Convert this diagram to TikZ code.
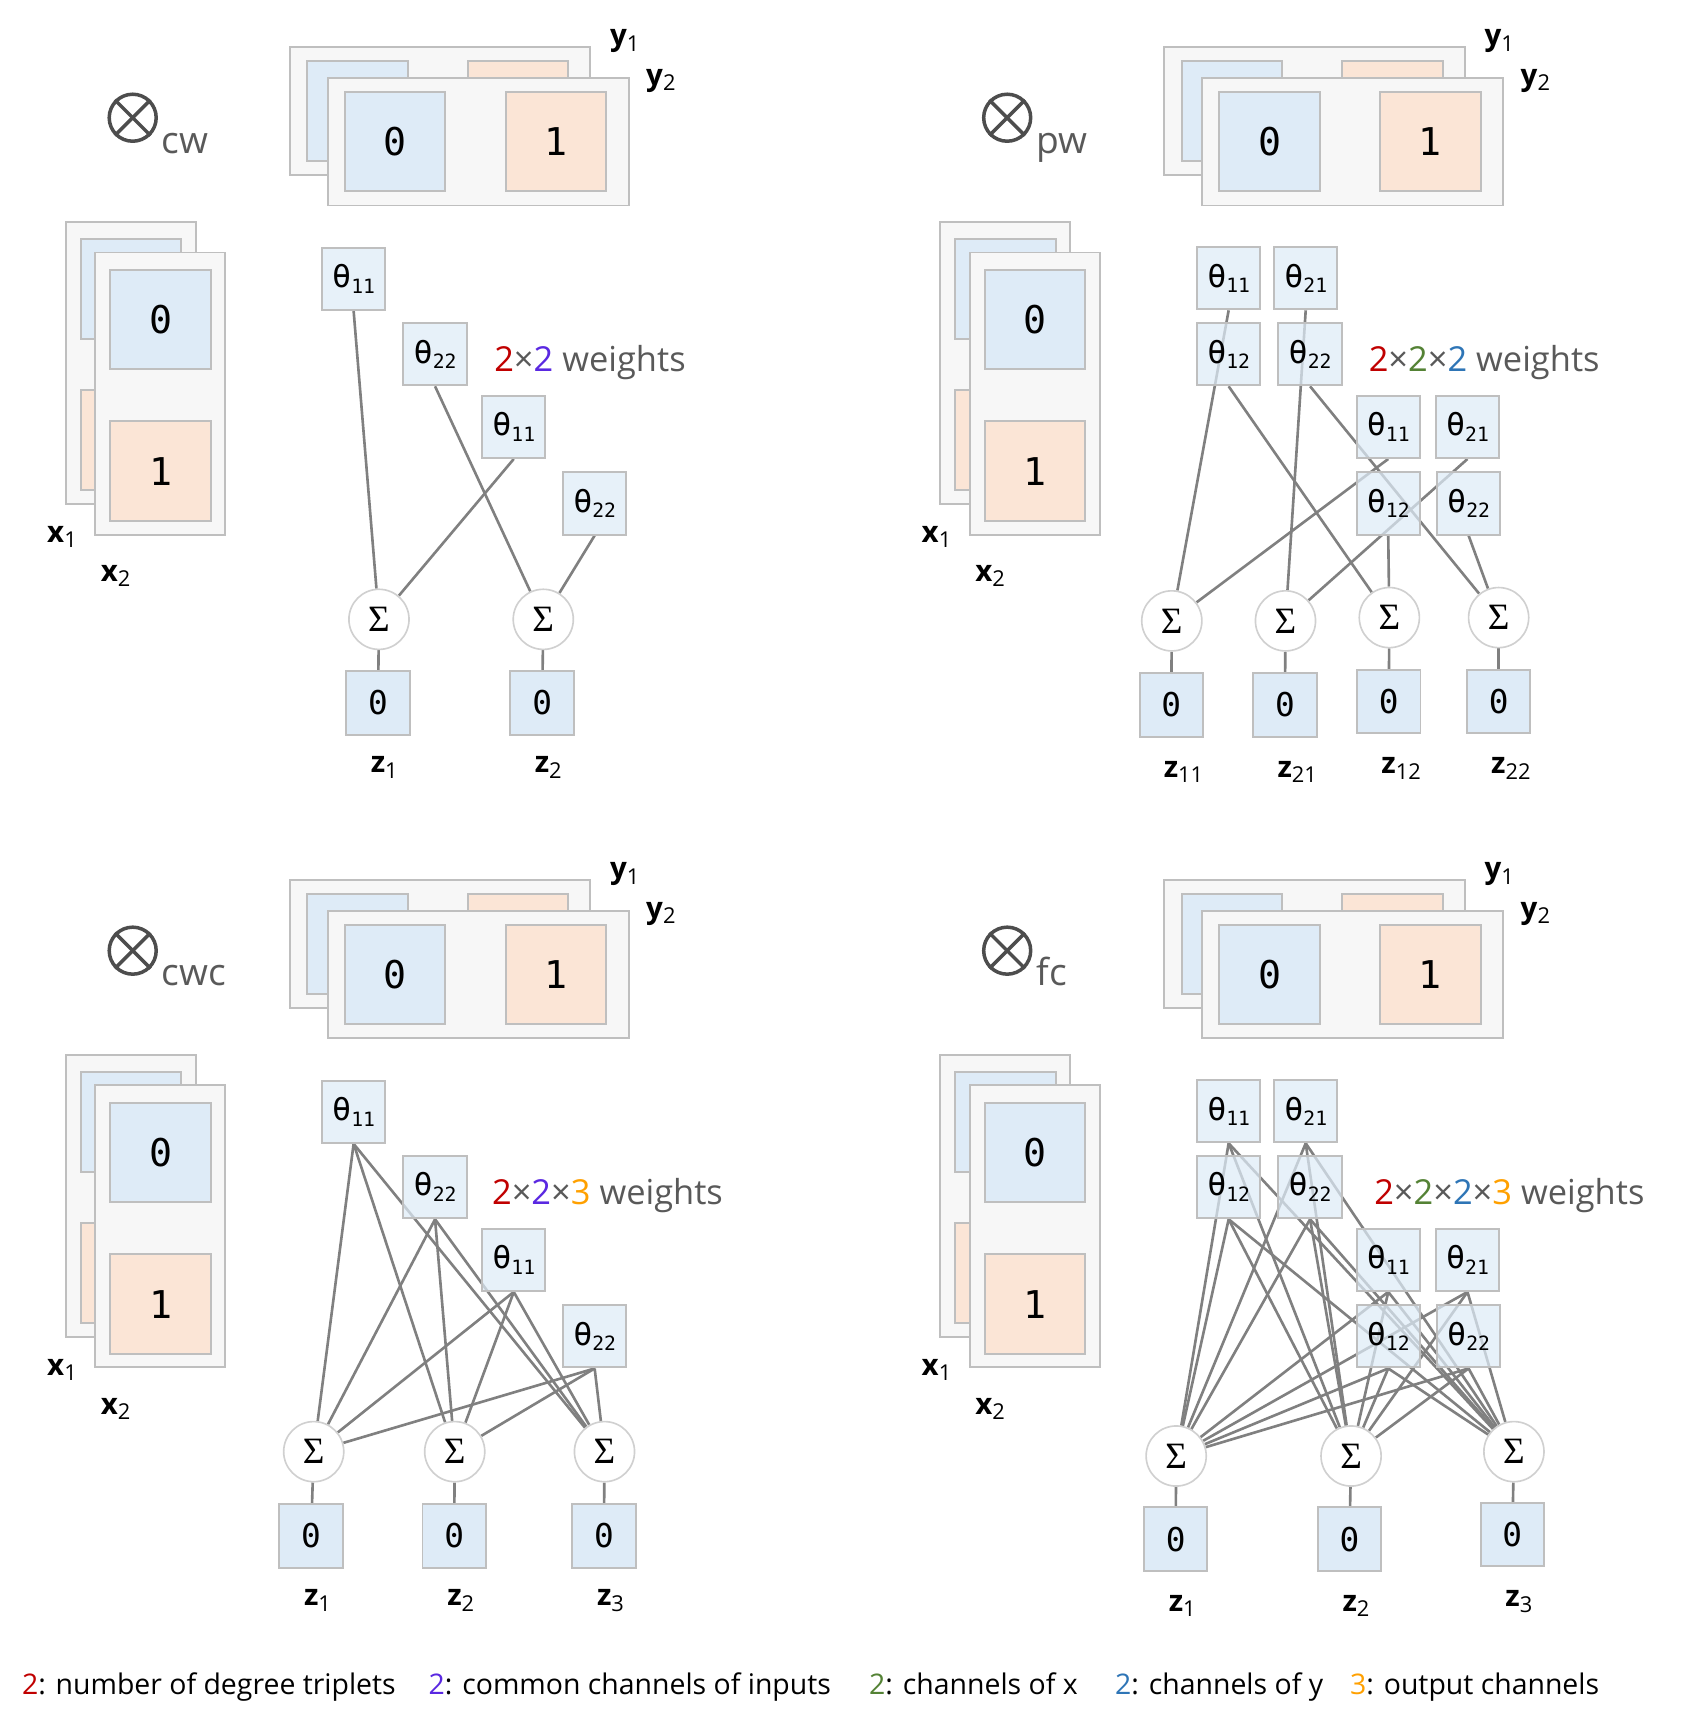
\documentclass[tikz,border=0pt]{standalone}
\usepackage{fontspec}
\setmainfont{Open Sans}
\newfontfamily\monof{DejaVu Sans Mono}
\newfontfamily\sigf{Liberation Serif}
\pgfdeclarelayer{back}
\pgfsetlayers{back,main}
\definecolor{bord}{HTML}{BFBFBF}
\definecolor{bblue}{HTML}{DEEBF7}
\definecolor{borange}{HTML}{FBE5D6}
\definecolor{bgrey}{HTML}{F7F7F7}
\definecolor{linec}{HTML}{808080}
\definecolor{circc}{HTML}{D0D0D0}
\definecolor{txtg}{HTML}{595959}
\definecolor{opc}{HTML}{4D4D4D}
\definecolor{cred}{HTML}{C00000}
\definecolor{cpur}{RGB}{90,40,225}
\definecolor{cgrn}{HTML}{548235}
\definecolor{cblu}{HTML}{2E75B6}
\definecolor{corg}{RGB}{255,160,0}
\newcommand\wt[1]{θ\raisebox{-5pt}{\fontsize{18}{18}\selectfont #1}}
\newcommand\blab[2]{{\bfseries #1}{\fontsize{20}{20}\selectfont\raisebox{-5pt}{#2}}}
\tikzset{
  rectbox/.style={draw=bord, line width=1.8pt, fill=bgrey},
  backblue/.style={draw=bord, line width=1.8pt, fill=bblue},
  backorange/.style={draw=bord, line width=1.8pt, fill=borange},
  chanb/.style={draw=bord, line width=1.8pt, fill=bblue, minimum width=92pt, minimum height=91pt, inner sep=0pt, font=\monof\fontsize{35}{35}\selectfont},
  chano/.style={chanb, fill=borange},
  wbox/.style={draw=bord, line width=1.8pt, fill=bblue, fill opacity=0.72, text opacity=1, minimum width=58pt, minimum height=57pt, inner sep=0pt, font=\monof\fontsize{29}{29}\selectfont},
  zbox/.style={draw=bord, line width=1.8pt, fill=bblue, minimum width=58pt, minimum height=58pt, inner sep=0pt, font=\monof\fontsize{30}{30}\selectfont},
  sumc/.style={circle, draw=circc, line width=1.5pt, fill=white, minimum size=55pt, inner sep=0pt, font=\sigf\fontsize{34}{34}\selectfont},
  conn/.style={draw=linec, line width=2.4pt},
  lab/.style={anchor=base west, font=\fontsize{27}{27}\selectfont, inner sep=0pt},
  opcirc/.style={circle, draw=opc, line width=3.2pt, minimum size=43pt, inner sep=0pt},
  optext/.style={anchor=base west, font=\fontsize{34}{34}\selectfont, text=txtg, inner sep=0pt},
  wtext/.style={anchor=base west, font=\fontsize{31.5}{31.5}\selectfont, text=txtg, inner sep=0pt},
  legtext/.style={anchor=base west, font=\fontsize{26}{26}\selectfont, text=black, inner sep=0pt},
}
% common part of a panel: operator symbol, y stack, x stack, labels
\newcommand\commonpart[2]{%
  \node[opcirc] (#1op) at (121.4,107.7) {};
  \draw[opc, line width=3.2pt] (#1op.north west) -- (#1op.south east);
  \draw[opc, line width=3.2pt] (#1op.north east) -- (#1op.south west);
  \node[optext] (#1opl) at (148,140) {#2};
  % y stack
  \draw[rectbox] (265,43) rectangle (540,160);
  \draw[backblue] (281,56) rectangle (373,147);
  \draw[backorange] (428,56) rectangle (520,147);
  \draw[rectbox] (300,71) rectangle (575,188);
  \node[chanb] (#1y0) at (361.5,129.5) {0};
  \node[chano] (#1y1) at (508.5,129.5) {1};
  % x stack
  \draw[rectbox] (60,203) rectangle (179,461);
  \draw[backblue] (74,219) rectangle (166,310);
  \draw[backorange] (74,357) rectangle (166,448);
  \draw[rectbox] (87,231) rectangle (206,489);
  \node[chanb] (#1x0) at (147,292.5) {0};
  \node[chano] (#1x1) at (147,431) {1};
  % labels
  \node[lab] (#1ly1) at (558,42) {\blab{y}{1}};
  \node[lab] (#1ly2) at (591,78) {\blab{y}{2}};
  \node[lab] (#1lx1) at (43,496) {\blab{x}{1}};
  \node[lab] (#1lx2) at (92,532) {\blab{x}{2}};
}
\begin{document}
\begin{tikzpicture}[x=1pt,y=-1pt]
\useasboundingbox (0,0) rectangle (1545,1572.6);

\begin{scope}\commonpart{a}{cw}\end{scope}
\begin{scope}[shift={(800,0)}]\commonpart{b}{pw}\end{scope}
\begin{scope}[shift={(0,762)}]\commonpart{c}{cwc}\end{scope}
\begin{scope}[shift={(800,762)}]\commonpart{d}{fc}\end{scope}

% ---------- panel 1 : cw ----------
\node[wbox] (aw1) at (323.5,255) {\wt{11}};
\node[wbox] (aw2) at (398,324) {\wt{22}};
\node[wbox] (aw3) at (470,390.5) {\wt{11}};
\node[wbox] (aw4) at (544,460.5) {\wt{22}};
\node[sumc] (as1) at (346.7,566.6) {Σ};
\node[sumc] (as2) at (497,566.6) {Σ};
\node[zbox] (az1) at (345.8,643) {0};
\node[zbox] (az2) at (496,643) {0};
\node[lab] (alz1) at (339,707) {\blab{z}{1}};
\node[lab] (alz2) at (489,707) {\blab{z}{2}};
\node[wtext] (awt) at (452,340) {\textcolor{cred}{2}×\textcolor{cpur}{2} weights};
\begin{pgfonlayer}{back}
\draw[conn] (aw1.south) -- (as1);
\draw[conn] (aw3.south) -- (as1);
\draw[conn] (aw2.south) -- (as2);
\draw[conn] (aw4.south) -- (as2);
\draw[conn] (as1) -- (az1);
\draw[conn] (as2) -- (az2);
\end{pgfonlayer}

% ---------- panel 2 : pw ----------
\node[wbox] (bu11) at (1124,254.5) {\wt{11}};
\node[wbox] (bu21) at (1194.5,254.5) {\wt{21}};
\node[wbox] (bu12) at (1124,324) {\wt{12}};
\node[wbox] (bu22) at (1198.5,324) {\wt{22}};
\node[wbox] (bl11) at (1270,390.5) {\wt{11}};
\node[wbox] (bl21) at (1342.5,390.5) {\wt{21}};
\node[wbox] (bl12) at (1270,460.5) {\wt{12}};
\node[wbox] (bl22) at (1343.5,460.5) {\wt{22}};
\node[sumc] (bs1) at (1072,568) {Σ};
\node[sumc] (bs2) at (1176,568) {Σ};
\node[sumc] (bs3) at (1271,565) {Σ};
\node[sumc] (bs4) at (1371,565) {Σ};
\node[zbox] (bz1) at (1071.5,645) {0};
\node[zbox] (bz2) at (1175.5,645) {0};
\node[zbox] (bz3) at (1270.5,642) {0};
\node[zbox] (bz4) at (1371,642) {0};
\node[lab] (blz1) at (1064.5,711) {\blab{z}{11}};
\node[lab] (blz2) at (1168.5,711) {\blab{z}{21}};
\node[lab] (blz3) at (1263.5,708) {\blab{z}{12}};
\node[lab] (blz4) at (1364,708) {\blab{z}{22}};
\node[wtext] (bwt) at (1252,340) {\textcolor{cred}{2}×\textcolor{cgrn}{2}×\textcolor{cblu}{2} weights};
\begin{pgfonlayer}{back}
\draw[conn] (bu11.south) -- (bs1);
\draw[conn] (bl11.south) -- (bs1);
\draw[conn] (bu21.south) -- (bs2);
\draw[conn] (bl21.south) -- (bs2);
\draw[conn] (bu12.south) -- (bs3);
\draw[conn] (bl12.south) -- (bs3);
\draw[conn] (bu22.south) -- (bs4);
\draw[conn] (bl22.south) -- (bs4);
\foreach \i in {1,2,3,4} {\draw[conn] (bs\i) -- (bz\i);}
\end{pgfonlayer}

% ---------- panel 3 : cwc ----------
\node[wbox] (cw1) at (323.5,1017) {\wt{11}};
\node[wbox] (cw2) at (398,1086) {\wt{22}};
\node[wbox] (cw3) at (470,1152.5) {\wt{11}};
\node[wbox] (cw4) at (544,1222.5) {\wt{22}};
\node[sumc] (cs1) at (287,1328) {Σ};
\node[sumc] (cs2) at (416,1328) {Σ};
\node[sumc] (cs3) at (553,1328) {Σ};
\node[zbox] (cz1) at (284.5,1405) {0};
\node[zbox] (cz2) at (415.5,1405) {0};
\node[zbox] (cz3) at (552.5,1405) {0};
\node[lab] (clz1) at (278,1469) {\blab{z}{1}};
\node[lab] (clz2) at (409,1469) {\blab{z}{2}};
\node[lab] (clz3) at (546,1469) {\blab{z}{3}};
\node[wtext] (cwt) at (450,1102) {\textcolor{cred}{2}×\textcolor{cpur}{2}×\textcolor{corg}{3} weights};
\begin{pgfonlayer}{back}
\foreach \w in {1,2,3,4} {\foreach \s in {1,2,3} {\draw[conn] (cw\w.south) -- (cs\s);}}
\foreach \i in {1,2,3} {\draw[conn] (cs\i) -- (cz\i);}
\end{pgfonlayer}

% ---------- panel 4 : fc ----------
\node[wbox] (du11) at (1124,1016.5) {\wt{11}};
\node[wbox] (du21) at (1194.5,1016.5) {\wt{21}};
\node[wbox] (du12) at (1124,1086) {\wt{12}};
\node[wbox] (du22) at (1198.5,1086) {\wt{22}};
\node[wbox] (dl11) at (1270,1152.5) {\wt{11}};
\node[wbox] (dl21) at (1342.5,1152.5) {\wt{21}};
\node[wbox] (dl12) at (1270,1222.5) {\wt{12}};
\node[wbox] (dl22) at (1343.5,1222.5) {\wt{22}};
\node[sumc] (ds1) at (1076,1332) {Σ};
\node[sumc] (ds2) at (1236,1332) {Σ};
\node[sumc] (ds3) at (1385,1328) {Σ};
\node[zbox] (dz1) at (1075.5,1408) {0};
\node[zbox] (dz2) at (1234.5,1408) {0};
\node[zbox] (dz3) at (1383.5,1404) {0};
\node[lab] (dlz1) at (1069,1474) {\blab{z}{1}};
\node[lab] (dlz2) at (1228,1474) {\blab{z}{2}};
\node[lab] (dlz3) at (1377,1470) {\blab{z}{3}};
\node[wtext] (dwt) at (1257,1102) {\textcolor{cred}{2}×\textcolor{cgrn}{2}×\textcolor{cblu}{2}×\textcolor{corg}{3} weights};
\begin{pgfonlayer}{back}
\foreach \w in {u11,u21,u12,u22,l11,l21,l12,l22} {\foreach \s in {1,2,3} {\draw[conn] (d\w.south) -- (ds\s);}}
\foreach \i in {1,2,3} {\draw[conn] (ds\i) -- (dz\i);}
\end{pgfonlayer}

% ---------- legend ----------
\node[legtext] (leg1) at (20,1550) {\textcolor{cred}{2}: number of degree triplets};
\node[legtext] (leg2) at (392,1550) {\textcolor{cpur}{2}: common channels of inputs};
\node[legtext] (leg3) at (795,1550) {\textcolor{cgrn}{2}: channels of x};
\node[legtext] (leg4) at (1020,1550) {\textcolor{cblu}{2}: channels of y};
\node[legtext] (leg5) at (1235,1550) {\textcolor{corg}{3}: output channels};
\end{tikzpicture}
\end{document}
